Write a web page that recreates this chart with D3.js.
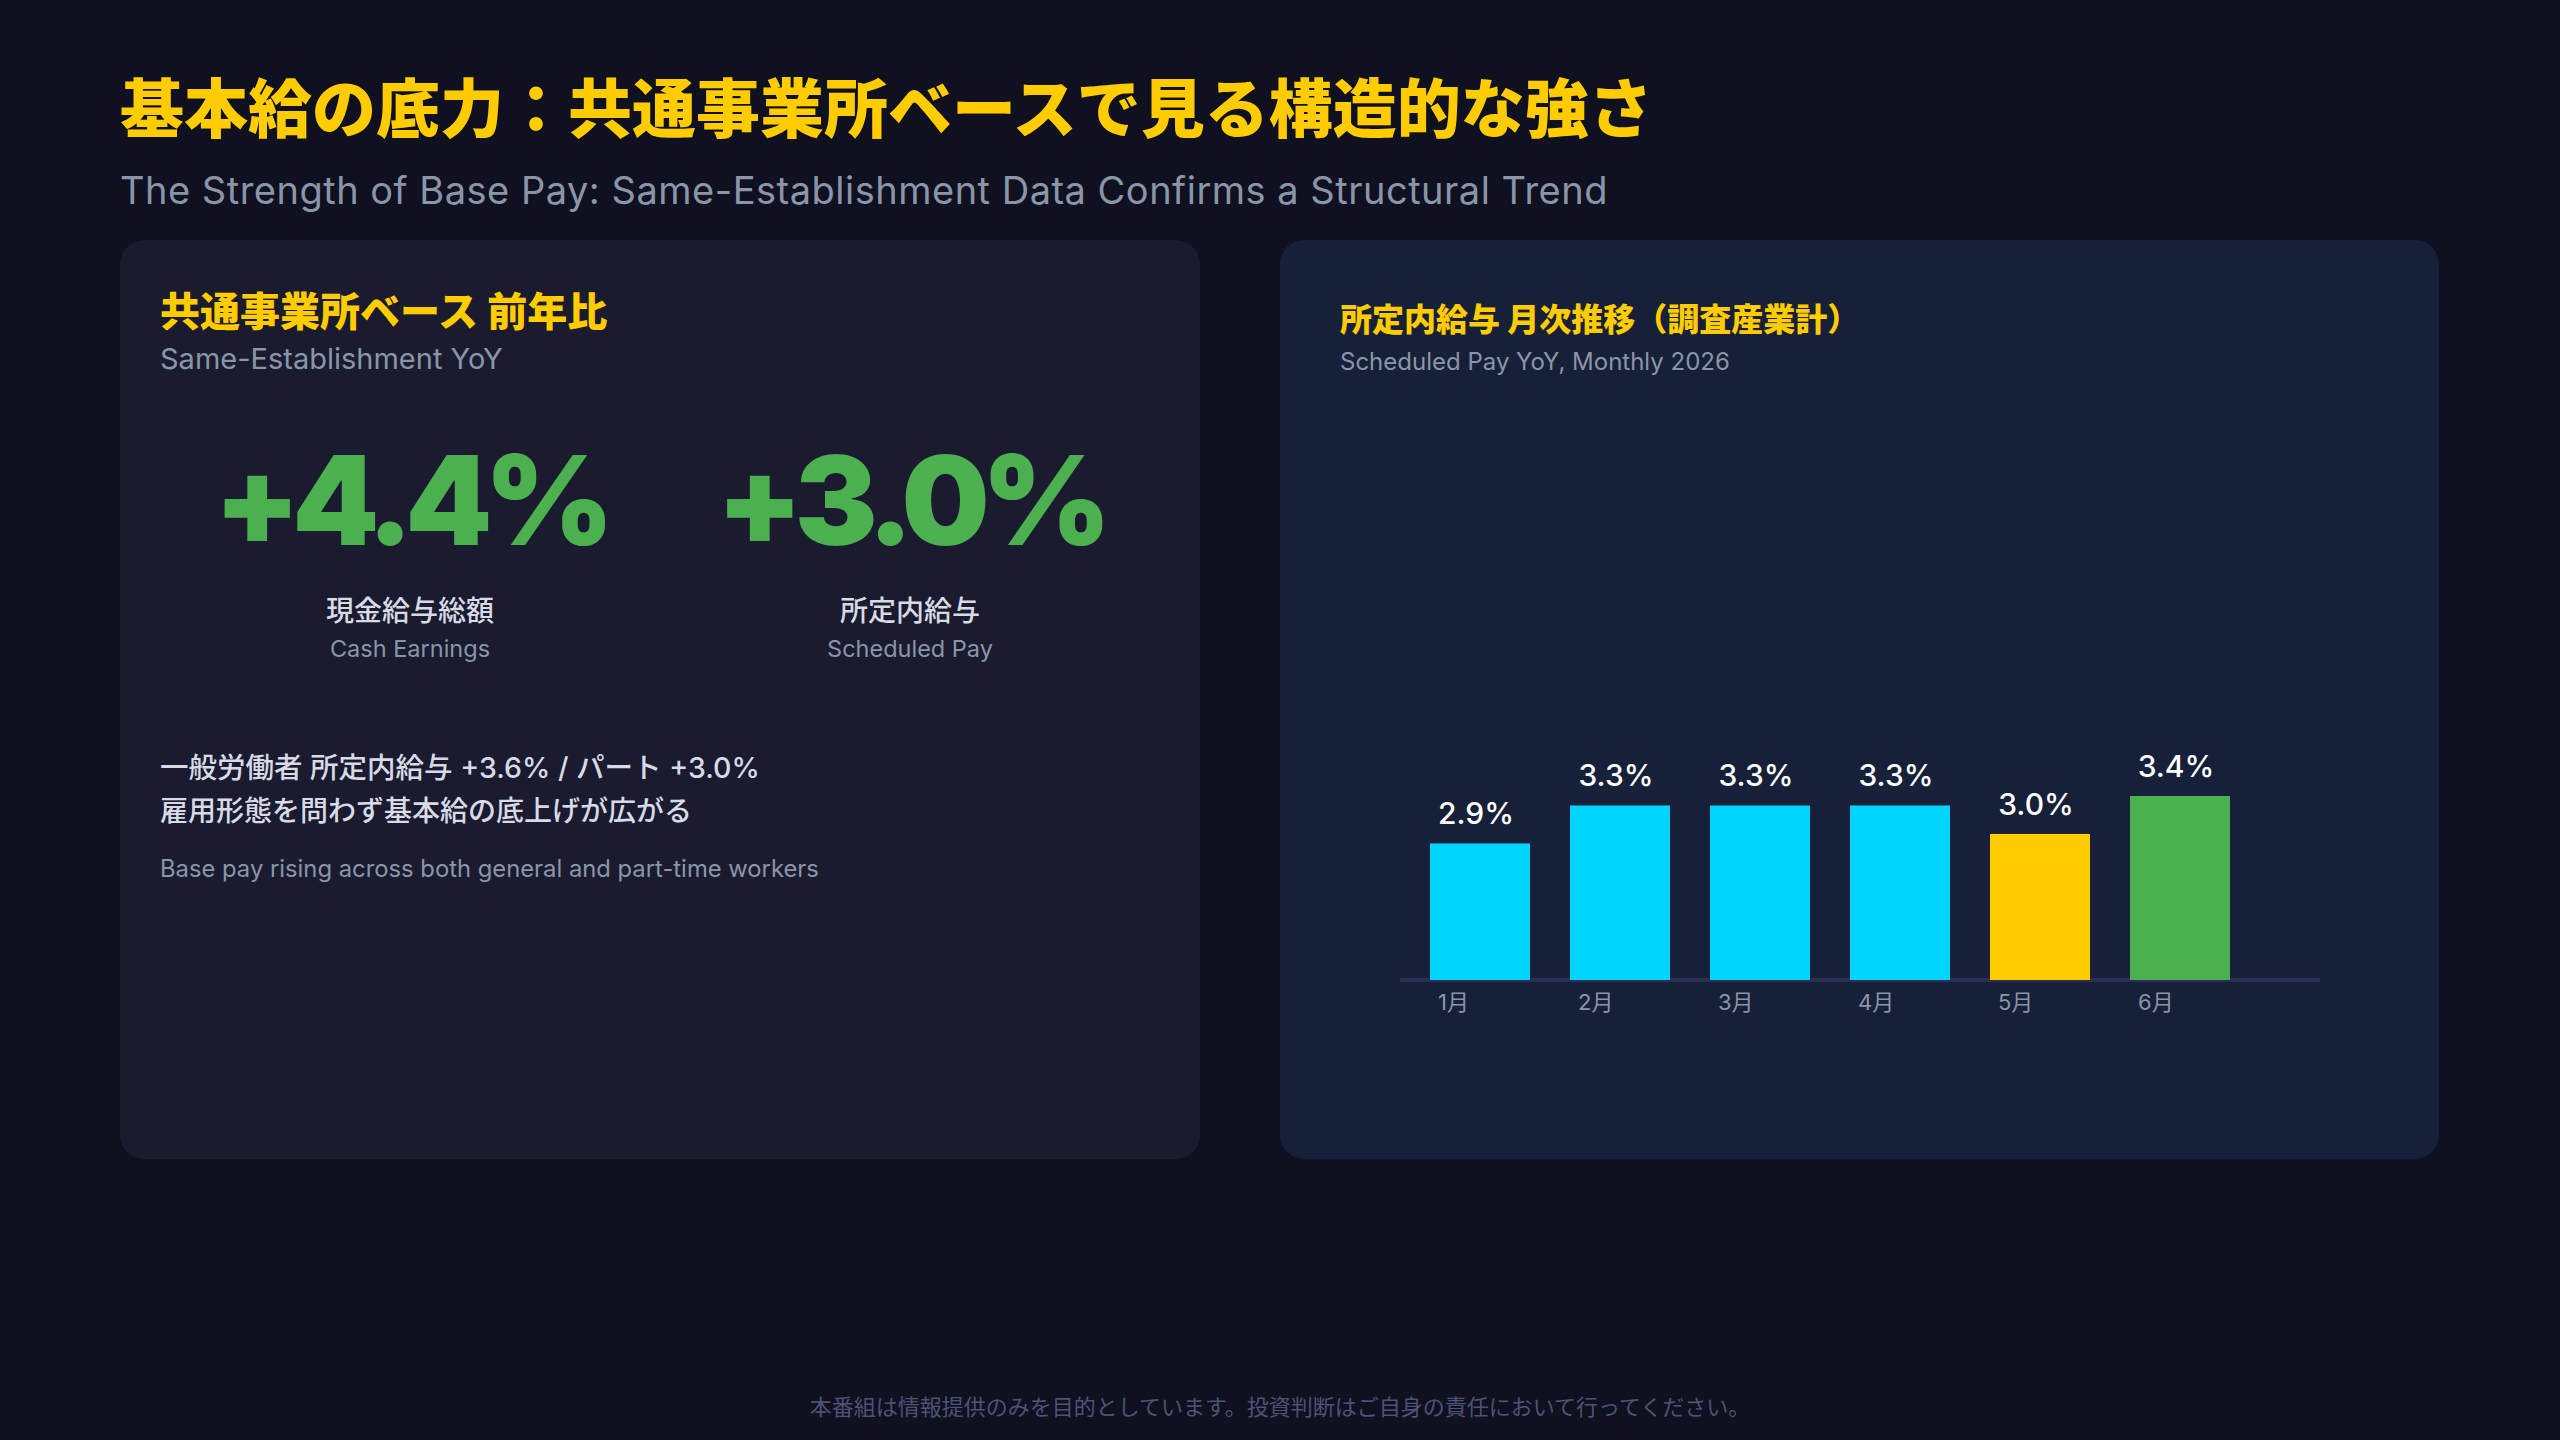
<!DOCTYPE html>
<html>
<head>
<meta charset="utf-8">
<script src="https://cdn.jsdelivr.net/npm/d3@7"></script>
<style>
  html, body { margin: 0; padding: 0; background: #0f1020; }
  svg { display: block; }
</style>
</head>
<body>
<div id="container"></div>
<script>
// headline numbers (left panel)
var kpiValues = [4.4, 3.0];
var kpiLabelsJa = ["現金給与総額", "所定内給与"];
var kpiLabelsEn = ["Cash Earnings", "Scheduled Pay"];

// monthly scheduled pay YoY (right panel)
var months = ["1月", "2月", "3月", "4月", "5月", "6月"];
var monthValues = [2.9, 3.3, 3.3, 3.3, 3.0, 3.4];

var W = 2560, H = 1440;
var jaFont = "'Noto Sans CJK JP', sans-serif";
var latFont = "Inter, 'Noto Sans CJK JP', sans-serif";

var YELLOW = "#ffcc00", GREEN = "#4caf50", CYAN = "#00d4ff";
var GRAY = "#8a96a8", LIGHT = "#d8dae6";

function barColor(m)
{// 5月 dip in yellow, latest month in green
	if (m === "5月") return YELLOW;
	if (m === "6月") return GREEN;
	return CYAN;
}

var svg = d3.select("#container")
	.append("svg")
	.attr("width", W)
	.attr("height", H);

svg.append("rect") // background
	.attr("width", W).attr("height", H)
	.attr("fill", "#0f1020");

// page title
svg.append("text")
	.attr("x", 120).attr("y", 132)
	.attr("font-family", jaFont).attr("font-weight", 900)
	.attr("font-size", 64).attr("fill", YELLOW)
	.text("基本給の底力：共通事業所ベースで見る構造的な強さ");

svg.append("text")
	.attr("x", 120).attr("y", 204)
	.attr("font-family", latFont).attr("font-size", 38)
	.attr("letter-spacing", 0.5)
	.attr("fill", GRAY)
	.text("The Strength of Base Pay: Same-Establishment Data Confirms a Structural Trend");

// panels
svg.append("rect")
	.attr("x", 120).attr("y", 240).attr("width", 1080).attr("height", 919)
	.attr("rx", 24).attr("fill", "#1a1b2f");

svg.append("rect")
	.attr("x", 1280).attr("y", 240).attr("width", 1159).attr("height", 919)
	.attr("rx", 24).attr("fill", "#172039");

// ---- left panel ----
var left = svg.append("g");

left.append("text")
	.attr("x", 160).attr("y", 326)
	.attr("font-family", jaFont).attr("font-weight", 900)
	.attr("font-size", 40).attr("fill", YELLOW)
	.text("共通事業所ベース 前年比");

left.append("text")
	.attr("x", 160).attr("y", 369)
	.attr("font-family", latFont).attr("font-size", 29)
	.attr("fill", GRAY)
	.text("Same-Establishment YoY");

var kpiX = d3.scaleBand()
	.domain(kpiLabelsJa)
	.range([160, 1160]);

var kpi = left.selectAll("g.kpi")
	.data(kpiValues)
	.enter()
	.append("g")
		.attr("class", "kpi")
		.attr("transform", (d, i) => "translate(" + (kpiX(kpiLabelsJa[i]) + kpiX.bandwidth() / 2) + ",0)");

kpi.append("text")
	.attr("y", 545)
	.attr("text-anchor", "middle")
	.attr("font-family", latFont).attr("font-weight", 900)
	.attr("font-size", 124).attr("letter-spacing", -8)
	.attr("fill", GREEN)
	.text((d) => "+" + d.toFixed(1) + "%");

kpi.append("text")
	.attr("y", 621)
	.attr("text-anchor", "middle")
	.attr("font-family", jaFont).attr("font-weight", 500)
	.attr("font-size", 28).attr("fill", LIGHT)
	.text((d, i) => kpiLabelsJa[i]);

kpi.append("text")
	.attr("y", 657)
	.attr("text-anchor", "middle")
	.attr("font-family", latFont).attr("font-size", 23.5)
	.attr("fill", GRAY)
	.text((d, i) => kpiLabelsEn[i]);

left.append("text")
	.attr("x", 160).attr("y", 778)
	.attr("font-family", latFont).attr("font-weight", 500)
	.attr("font-size", 28.5).attr("fill", LIGHT)
	.text("一般労働者 所定内給与 +3.6% / パート +3.0%");

left.append("text")
	.attr("x", 160).attr("y", 821)
	.attr("font-family", jaFont).attr("font-weight", 500)
	.attr("font-size", 28).attr("fill", LIGHT)
	.text("雇用形態を問わず基本給の底上げが広がる");

left.append("text")
	.attr("x", 160).attr("y", 877)
	.attr("font-family", latFont).attr("font-size", 23.8)
	.attr("fill", GRAY)
	.text("Base pay rising across both general and part-time workers");

// ---- right panel: bar chart ----
var right = svg.append("g");

right.append("text")
	.attr("x", 1340).attr("y", 331)
	.attr("font-family", jaFont).attr("font-weight", 900)
	.attr("font-size", 32).attr("fill", YELLOW)
	.text("所定内給与 月次推移（調査産業計）");

right.append("text")
	.attr("x", 1340).attr("y", 370)
	.attr("font-family", latFont).attr("font-size", 24)
	.attr("fill", GRAY)
	.text("Scheduled Pay YoY, Monthly 2026");

var x = d3.scaleBand()
	.domain(months)
	.range([1410, 2250])
	.paddingInner(40 / 140)
	.paddingOuter(20 / 140);

var y = d3.scaleLinear()
	.domain([1.46, 3.4])
	.range([980, 796]);

right.append("line") // baseline
	.attr("x1", 1400).attr("x2", 2320)
	.attr("y1", 980).attr("y2", 980)
	.attr("stroke", "#2e2d52").attr("stroke-width", 4);

right.selectAll("rect.bar")
	.data(monthValues)
	.enter()
	.append("rect")
		.attr("class", "bar")
		.attr("x", (d, i) => x(months[i]))
		.attr("y", (d) => y(d))
		.attr("width", x.bandwidth())
		.attr("height", (d) => y.range()[0] - y(d))
		.attr("fill", (d, i) => barColor(months[i]));

right.selectAll("text.val")
	.data(monthValues)
	.enter()
	.append("text")
		.attr("class", "val")
		.attr("x", (d, i) => x(months[i]) + x.bandwidth() / 2 - 4)
		.attr("y", (d) => y(d) - 19)
		.attr("text-anchor", "middle")
		.attr("font-family", latFont).attr("font-weight", 500)
		.attr("font-size", 30).attr("fill", "#ffffff")
		.text((d) => d.toFixed(1) + "%");

var xAxis = right.append("g")
	.attr("transform", "translate(0,980)")
	.call(d3.axisBottom(x).tickSize(0).tickPadding(0));

xAxis.select(".domain").remove();
xAxis.selectAll("text")
	.attr("x", -x.bandwidth() / 2 + 8)
	.attr("y", 30)
	.attr("dy", 0)
	.attr("text-anchor", "start")
	.attr("font-family", latFont).attr("font-size", 22)
	.attr("fill", GRAY);

// footer
svg.append("text")
	.attr("x", 1280).attr("y", 1415)
	.attr("text-anchor", "middle")
	.attr("font-family", jaFont).attr("font-size", 22)
	.attr("fill", "#4f5275")
	.text("本番組は情報提供のみを目的としています。投資判断はご自身の責任において行ってください。");
</script>
</body>
</html>
